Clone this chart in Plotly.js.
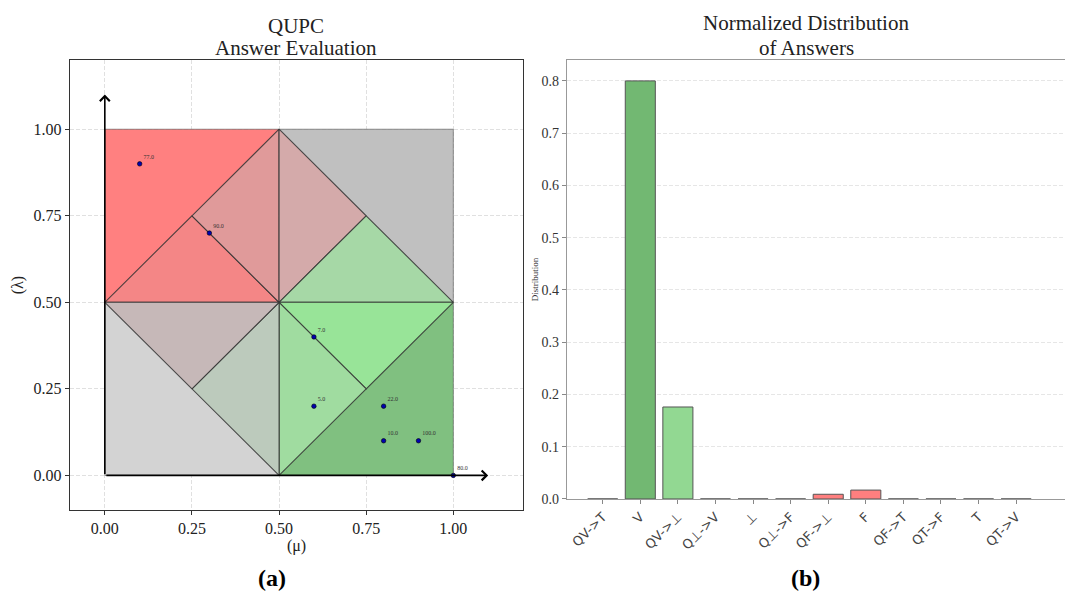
<!DOCTYPE html>
<html>
<head>
<meta charset="utf-8">
<script src="https://cdn.plot.ly/plotly-3.0.1.min.js"></script>
<style>html,body{margin:0;padding:0;background:#fff;}#chart{width:1065px;height:597px;}</style>
</head>
<body>
<div id="chart"></div>
<script>
// ---------- Panel (a): region polygons ----------
const squareNames = ["falseSquare", "topRightSquare", "bottomLeftSquare", "trueSquare"];
const squareX = [[0,0.5,0.5,0,0],[0.5,1,1,0.5,0.5],[0,0.5,0.5,0,0],[0.5,1,1,0.5,0.5]];
const squareY = [[0.5,0.5,1,1,0.5],[0.5,0.5,1,1,0.5],[0,0,0.5,0.5,0],[0,0,0.5,0.5,0]];
const squareColors = ["#ff8080", "#c0c0c0", "#d3d3d3", "#80c080"];

const triX = [[0,0.25,0.5,0],[0.25,0.5,0.5,0.25],[0.5,0.75,0.5,0.5],[0.75,1,0.5,0.75],
              [1,0.75,0.5,1],[0.75,0.5,0.5,0.75],[0.5,0.25,0.5,0.5],[0.25,0,0.5,0.25]];
const triY = [[0.5,0.75,0.5,0.5],[0.75,1,0.5,0.75],[1,0.75,0.5,1],[0.75,0.5,0.5,0.75],
              [0.5,0.25,0.5,0.5],[0.25,0,0.5,0.25],[0,0.25,0.5,0],[0.25,0.5,0.5,0.25]];
const triColors = ["#f48686","#e09a9a","#d4aaaa","#a6d8a6","#98e498","#a0dca0","#bccabc","#c6b8b8"];

// ---------- Panel (a): answer points ----------
const pointMu     = [0.1, 0.3, 0.6, 0.6, 0.8, 0.8, 0.9, 1.0];
const pointLambda = [0.9, 0.7, 0.4, 0.2, 0.2, 0.1, 0.1, 0.0];
const pointLabels = ["77.0","90.0","7.0","5.0","22.0","10.0","100.0","80.0"];

// ---------- Panel (b): distribution ----------
const answerCategories = ["QV->T","V","QV->⊥","Q⊥->V","⊥","Q⊥->F","QF->⊥","F","QF->T","QT->F","T","QT->V"];
const answerDistribution = [0, 0.8, 0.176, 0, 0, 0, 0.009, 0.017, 0, 0, 0, 0];
const answerColors = ["#72b872","#72b872","#92d892","#92d892","#c0c0c0","#ff7f7f","#ff7f7f","#ff7f7f","#c0c0c0","#c0c0c0","#c0c0c0","#c0c0c0"];

const serif = "Liberation Serif, DejaVu Serif, serif";
const traces = [];

squareX.forEach((xs, i) => {
  traces.push({
    type: "scatter", mode: "lines", x: xs, y: squareY[i], fill: "toself",
    fillcolor: squareColors[i], line: {color: "rgba(70,70,70,0.55)", width: 1},
    xaxis: "x", yaxis: "y", hoverinfo: "skip", showlegend: false, name: squareNames[i]
  });
});
triX.forEach((xs, i) => {
  traces.push({
    type: "scatter", mode: "lines", x: xs, y: triY[i], fill: "toself",
    fillcolor: triColors[i], line: {color: "rgba(50,50,50,0.85)", width: 1.1},
    xaxis: "x", yaxis: "y", hoverinfo: "skip", showlegend: false
  });
});
traces.push({
  type: "scatter", mode: "markers+text", x: pointMu, y: pointLambda, text: pointLabels,
  textposition: "top right", textfont: {family: serif, size: 6, color: "#333"},
  marker: {color: "#0000b0", size: 4.5, line: {color: "#000", width: 0.6}},
  xaxis: "x", yaxis: "y", showlegend: false, cliponaxis: false
});
traces.push({
  type: "bar", x: answerCategories, y: answerDistribution,
  marker: {color: answerColors, line: {color: "#555", width: 1}},
  xaxis: "x2", yaxis: "y2", showlegend: false
});

const layout = {
  width: 1065, height: 597,
  margin: {l: 0, r: 0, t: 0, b: 0},
  paper_bgcolor: "#fff", plot_bgcolor: "#fff",
  showlegend: false,
  xaxis: {
    domain: [0.0657, 0.4911], range: [-0.1, 1.2],
    tickvals: [0, 0.25, 0.5, 0.75, 1.0], ticktext: ["0.00","0.25","0.50","0.75","1.00"],
    tickfont: {family: serif, size: 16, color: "#222"},
    ticks: "outside", ticklen: 4, tickcolor: "#333",
    showgrid: true, gridcolor: "#d8d8d8", griddash: "4px,2px", gridwidth: 0.8,
    zeroline: false, showline: true, linecolor: "#333", linewidth: 1.2, mirror: true,
    title: {text: "(μ)", font: {family: serif, size: 16, color: "#222"}, standoff: 2}
  },
  yaxis: {
    domain: [0.1457, 0.8995], range: [-0.1, 1.2],
    tickvals: [0, 0.25, 0.5, 0.75, 1.0], ticktext: ["0.00","0.25","0.50","0.75","1.00"],
    tickfont: {family: serif, size: 16, color: "#222"},
    ticks: "outside", ticklen: 4, tickcolor: "#333",
    showgrid: true, gridcolor: "#d8d8d8", griddash: "4px,2px", gridwidth: 0.8,
    zeroline: false, showline: true, linecolor: "#333", linewidth: 1.2, mirror: true,
    title: {text: "(λ)", font: {family: serif, size: 16, color: "#222"}, standoff: 6}
  },
  xaxis2: {
    domain: [0.5324, 1.0], range: [-0.95, 12.3], anchor: "y2",
    tickangle: -45, tickfont: {family: "DejaVu Sans, sans-serif", size: 13, color: "#444"},
    ticks: "outside", ticklen: 4, tickcolor: "#888",
    showgrid: false, zeroline: false, showline: true, linecolor: "#999", linewidth: 1.2, mirror: true
  },
  yaxis2: {
    domain: [0.1642, 0.8995], range: [0, 0.84], anchor: "x2",
    tickvals: [0,0.1,0.2,0.3,0.4,0.5,0.6,0.7,0.8],
    ticktext: ["0.0","0.1","0.2","0.3","0.4","0.5","0.6","0.7","0.8"],
    tickfont: {family: serif, size: 14, color: "#333"},
    ticks: "outside", ticklen: 4, tickcolor: "#888",
    showgrid: true, gridcolor: "#e0e0e0", griddash: "4px,2px", gridwidth: 0.8,
    zeroline: false, showline: true, linecolor: "#999", linewidth: 1.2, mirror: true,
    title: {text: "Distribution", font: {family: serif, size: 9, color: "#333"}, standoff: 1}
  },
  bargap: 0.2,
  annotations: [
    {xref: "x", yref: "y", axref: "x", ayref: "y", x: 0, y: 1.1, ax: 0, ay: 0,
     showarrow: true, arrowhead: 4, arrowsize: 1.2, arrowwidth: 1.6, arrowcolor: "#000", text: ""},
    {xref: "x", yref: "y", axref: "x", ayref: "y", x: 1.1, y: 0, ax: 0, ay: 0,
     showarrow: true, arrowhead: 4, arrowsize: 1.2, arrowwidth: 1.6, arrowcolor: "#000", text: ""},
    {xref: "paper", yref: "paper", x: 296/1065, y: 1 - 26/597, xanchor: "center", yanchor: "middle",
     showarrow: false, text: "QUPC", font: {family: serif, size: 21, color: "#222"}},
    {xref: "paper", yref: "paper", x: 296/1065, y: 1 - 48/597, xanchor: "center", yanchor: "middle",
     showarrow: false, text: "Answer Evaluation", font: {family: serif, size: 21, color: "#222"}},
    {xref: "paper", yref: "paper", x: 806/1065, y: 1 - 23/597, xanchor: "center", yanchor: "middle",
     showarrow: false, text: "Normalized Distribution", font: {family: serif, size: 21, color: "#222"}},
    {xref: "paper", yref: "paper", x: 806/1065, y: 1 - 48/597, xanchor: "center", yanchor: "middle",
     showarrow: false, text: "of Answers", font: {family: serif, size: 21, color: "#222"}},
    {xref: "paper", yref: "paper", x: 272/1065, y: 1 - 578/597, xanchor: "center", yanchor: "middle",
     showarrow: false, text: "<b>(a)</b>", font: {family: serif, size: 24, color: "#000"}},
    {xref: "paper", yref: "paper", x: 805/1065, y: 1 - 578/597, xanchor: "center", yanchor: "middle",
     showarrow: false, text: "<b>(b)</b>", font: {family: serif, size: 24, color: "#000"}}
  ]
};

Plotly.newPlot("chart", traces, layout, {displayModeBar: false, staticPlot: true});
</script>
</body>
</html>
